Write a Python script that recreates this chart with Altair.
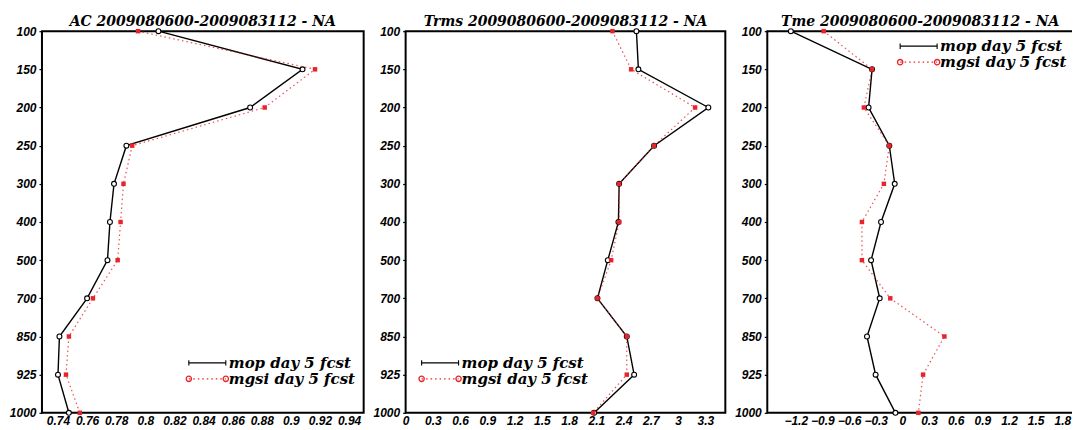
import altair as alt
import pandas as pd

levels = [100, 150, 200, 250, 300, 400, 500, 700, 850, 925, 1000]

ac_mop = [0.809, 0.908, 0.872, 0.787, 0.7785, 0.7757, 0.774, 0.760, 0.741, 0.740, 0.7475]
ac_mgsi = [0.795, 0.9166, 0.882, 0.791, 0.785, 0.783, 0.781, 0.764, 0.7475, 0.7455, 0.755]

trms_mop = [2.541, 2.563, 3.333, 2.736, 2.351, 2.343, 2.226, 2.112, 2.435, 2.516, 2.076]
trms_mgsi = [2.277, 2.483, 3.187, 2.736, 2.351, 2.351, 2.263, 2.112, 2.435, 2.435, 2.065]

tme_mop = [-1.255, -0.341, -0.380, -0.147, -0.086, -0.240, -0.352, -0.255, -0.398, -0.301, -0.078]
tme_mgsi = [-0.885, -0.341, -0.433, -0.147, -0.208, -0.455, -0.455, -0.136, 0.473, 0.233, 0.180]

ac_ticks = [0.74, 0.76, 0.78, 0.8, 0.82, 0.84, 0.86, 0.88, 0.9, 0.92, 0.94]
trms_ticks = [0, 0.3, 0.6, 0.9, 1.2, 1.5, 1.8, 2.1, 2.4, 2.7, 3, 3.3]
tme_ticks = [-1.2, -0.9, -0.6, -0.3, 0, 0.3, 0.6, 0.9, 1.2, 1.5, 1.8]

titles = ["AC 2009080600-2009083112 - NA",
          "Trms 2009080600-2009083112 - NA",
          "Tme 2009080600-2009083112 - NA"]
legend_labels = ["mop day 5 fcst", "mgsi day 5 fcst"]

RED = "#e8232a"
SERIF = "DejaVu Serif"
SANS = "Liberation Sans"


def panel(title, mop, mgsi, domain, ticks, fmt, width, lx, ly):
    df_mop = pd.DataFrame({"level": levels, "idx": list(range(len(levels))), "value": mop})
    df_mgsi = pd.DataFrame({"level": levels, "idx": list(range(len(levels))), "value": mgsi})
    x = alt.X("value:Q", title=None,
              scale=alt.Scale(domain=domain, nice=False, zero=False),
              axis=alt.Axis(values=ticks, format=fmt, ticks=False, domain=False,
                            grid=False, labelFont=SANS, labelFontStyle="italic",
                            labelFontWeight="bold", labelFontSize=12, labelColor="black",
                            labelPadding=3, labelFlush=False, labelOverlap=False))
    y = alt.Y("level:O", title=None, sort=levels,
              scale=alt.Scale(type="point", padding=0),
              axis=alt.Axis(ticks=True, tickSize=3, tickColor="black", tickWidth=1.2,
                            domain=False, grid=False, labelFont=SANS,
                            labelFontStyle="italic", labelFontWeight="bold",
                            labelFontSize=12, labelColor="black", labelPadding=3))
    enc = dict(x=x, y=y, order=alt.Order("idx:Q"))
    mop_line = alt.Chart(df_mop).mark_line(color="black", strokeWidth=1.4).encode(**enc)
    mop_pts = alt.Chart(df_mop).mark_point(shape="circle", size=24, filled=True,
                                           fill="white", stroke="black",
                                           strokeWidth=1.1, opacity=1).encode(x=x, y=y)
    mgsi_line = alt.Chart(df_mgsi).mark_line(color=RED, strokeWidth=1.2,
                                             strokeDash=[1.5, 3], opacity=0.8).encode(**enc)
    mgsi_pts = alt.Chart(df_mgsi).mark_point(shape="square", size=20, filled=True,
                                             color=RED, opacity=1).encode(x=x, y=y)

    one = alt.Data(values=[{"k": 1}])
    x0, x1 = lx, lx + 37
    y0, y1 = ly, ly + 16
    leg_rule1 = alt.Chart(one).mark_rule(color="black", strokeWidth=1.2).encode(
        x=alt.value(x0), x2=alt.value(x1), y=alt.value(y0))
    leg_tick1a = alt.Chart(one).mark_point(shape="M0,-1V1", size=30, color="black",
                                           strokeWidth=1.1, opacity=1).encode(
        x=alt.value(x0), y=alt.value(y0))
    leg_tick1b = alt.Chart(one).mark_point(shape="M0,-1V1", size=30, color="black",
                                           strokeWidth=1.1, opacity=1).encode(
        x=alt.value(x1), y=alt.value(y0))
    leg_rule2 = alt.Chart(one).mark_rule(color=RED, strokeWidth=1.2, strokeDash=[1.5, 3]).encode(
        x=alt.value(x0), x2=alt.value(x1), y=alt.value(y1))
    leg_c2a = alt.Chart(one).mark_point(shape="circle", size=28, color=RED, filled=False,
                                        strokeWidth=1.3, opacity=1).encode(
        x=alt.value(x0), y=alt.value(y1))
    leg_c2b = alt.Chart(one).mark_point(shape="circle", size=28, color=RED, filled=False,
                                        strokeWidth=1.3, opacity=1).encode(
        x=alt.value(x1), y=alt.value(y1))
    txt1 = alt.Chart(one).mark_text(text=legend_labels[0], align="left", baseline="middle",
                                    font=SERIF, fontStyle="italic", fontWeight="bold",
                                    fontSize=15, color="black").encode(
        x=alt.value(x1 + 3), y=alt.value(y0))
    txt2 = alt.Chart(one).mark_text(text=legend_labels[1], align="left", baseline="middle",
                                    font=SERIF, fontStyle="italic", fontWeight="bold",
                                    fontSize=15, color="black").encode(
        x=alt.value(x1 + 3), y=alt.value(y1))

    return alt.layer(
        mop_line, mop_pts, mgsi_line, mgsi_pts,
        leg_rule1, leg_tick1a, leg_tick1b, leg_rule2, leg_c2a, leg_c2b, txt1, txt2
    ).properties(
        width=width, height=382,
        title=alt.TitleParams(title, font=SERIF, fontStyle="italic", fontWeight="bold",
                              fontSize=14, color="black", anchor="middle", offset=-4)
    )


p1 = panel(titles[0], ac_mop, ac_mgsi, [0.729, 0.950], ac_ticks, ".2~f", 322, 147, 332)
p2 = panel(titles[1], trms_mop, trms_mgsi, [0, 3.52], trms_ticks, ".1~f", 320, 16, 332)
p3 = panel(titles[2], tme_mop, tme_mgsi, [-1.52, 1.92], tme_ticks, ".1~f", 306, 133, 15)

chart = alt.hconcat(p1, p2, p3, spacing=7).properties(
    padding={"left": 0, "top": 6, "right": -2, "bottom": 0},
    background="white"
).configure_view(
    stroke="black", strokeWidth=2
)

chart.save("out.html", embed_options={"renderer": "svg", "actions": False})
